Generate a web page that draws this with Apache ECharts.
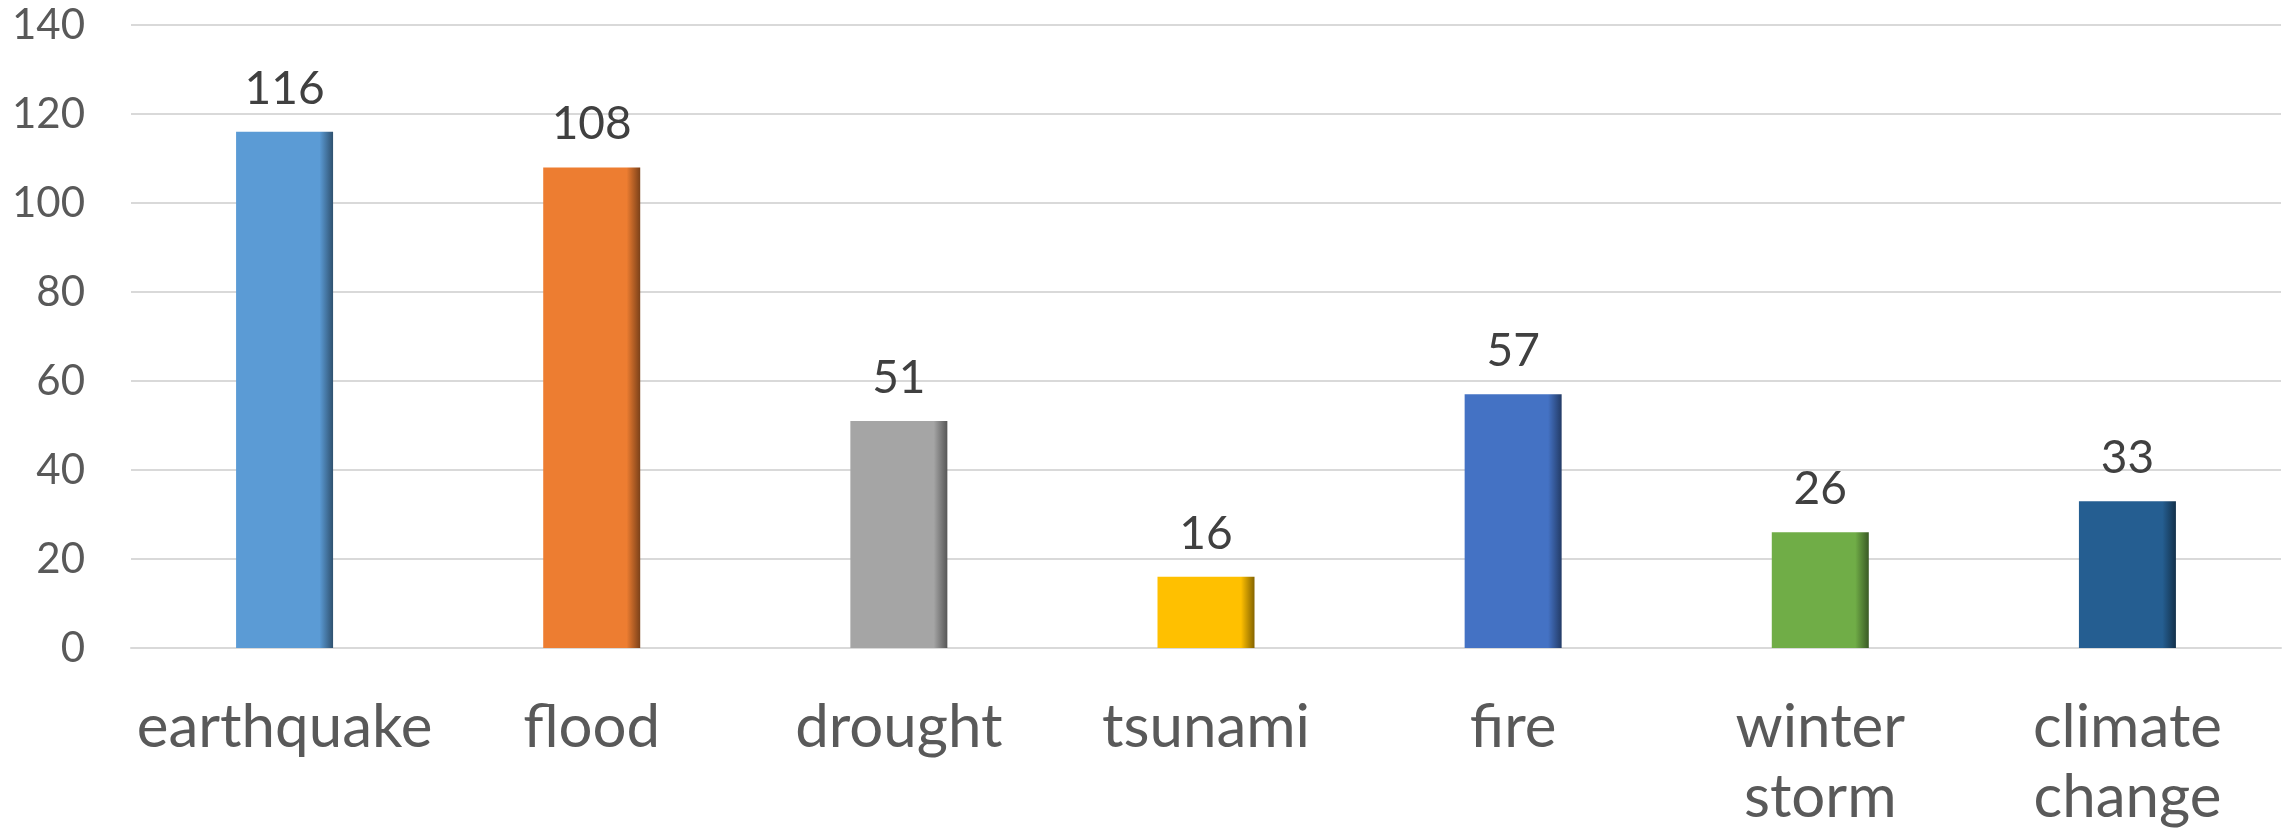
<!DOCTYPE html>
<html>
<head>
<meta charset="utf-8">
<script src="https://cdn.jsdelivr.net/npm/echarts@6/dist/echarts.min.js"></script>
<style>
  html, body { margin: 0; padding: 0; background: #fff; }
  #chart { width: 2287px; height: 838px; }
</style>
</head>
<body>
<div id="chart"></div>
<script>
const categories = ['earthquake', 'flood', 'drought', 'tsunami', 'fire', 'winter\nstorm', 'climate\nchange']
const values = [116, 108, 51, 16, 57, 26, 33]
const barColors = ['#5B9BD5', '#ED7D31', '#A5A5A5', '#FFC000', '#4472C4', '#70AD47', '#255E91']
const yTicks = [0, 20, 40, 60, 80, 100, 120, 140]

// darken a hex colour for the bevel edge
function shade(hex, f) {
  let n = parseInt(hex.slice(1), 16)
  let r = Math.round(((n >> 16) & 255) * f)
  let g = Math.round(((n >> 8) & 255) * f)
  let b = Math.round((n & 255) * f)
  return 'rgb(' + r + ',' + g + ',' + b + ')'
}

let myChart = echarts.init(document.getElementById('chart'))
let option = {
  animation: false,
  grid: {
    left: 131,
    right: 6,
    top: 25,
    bottom: 190,
    containLabel: false
  },
  xAxis: {
    type: 'category',
    data: categories,
    axisTick: { show: false },
    axisLine: {
      lineStyle: { color: '#D9D9D9', width: 2 }
    },
    axisLabel: {
      color: '#595959',
      fontFamily: 'Lato',
      fontSize: 60,
      lineHeight: 70,
      margin: 45,
      interval: 0
    }
  },
  yAxis: {
    type: 'value',
    min: yTicks[0],
    max: yTicks[yTicks.length - 1],
    interval: 20,
    axisLine: { show: false },
    axisTick: { show: false },
    splitLine: {
      lineStyle: { color: '#D9D9D9', width: 2 }
    },
    axisLabel: {
      color: '#595959',
      fontFamily: 'Lato',
      fontSize: 42,
      margin: 46
    }
  },
  series: [
    {
      type: 'bar',
      barWidth: 97,
      data: values.map((v, i) => ({
        value: v,
        itemStyle: {
          color: new echarts.graphic.LinearGradient(0, 0, 1, 0, [
            { offset: 0, color: barColors[i] },
            { offset: 0.86, color: barColors[i] },
            { offset: 1, color: shade(barColors[i], 0.52) }
          ])
        }
      })),
      label: {
        show: true,
        position: 'top',
        distance: 20,
        color: '#404040',
        fontFamily: 'Lato',
        fontSize: 46
      }
    }
  ]
}
myChart.setOption(option)
</script>
</body>
</html>
